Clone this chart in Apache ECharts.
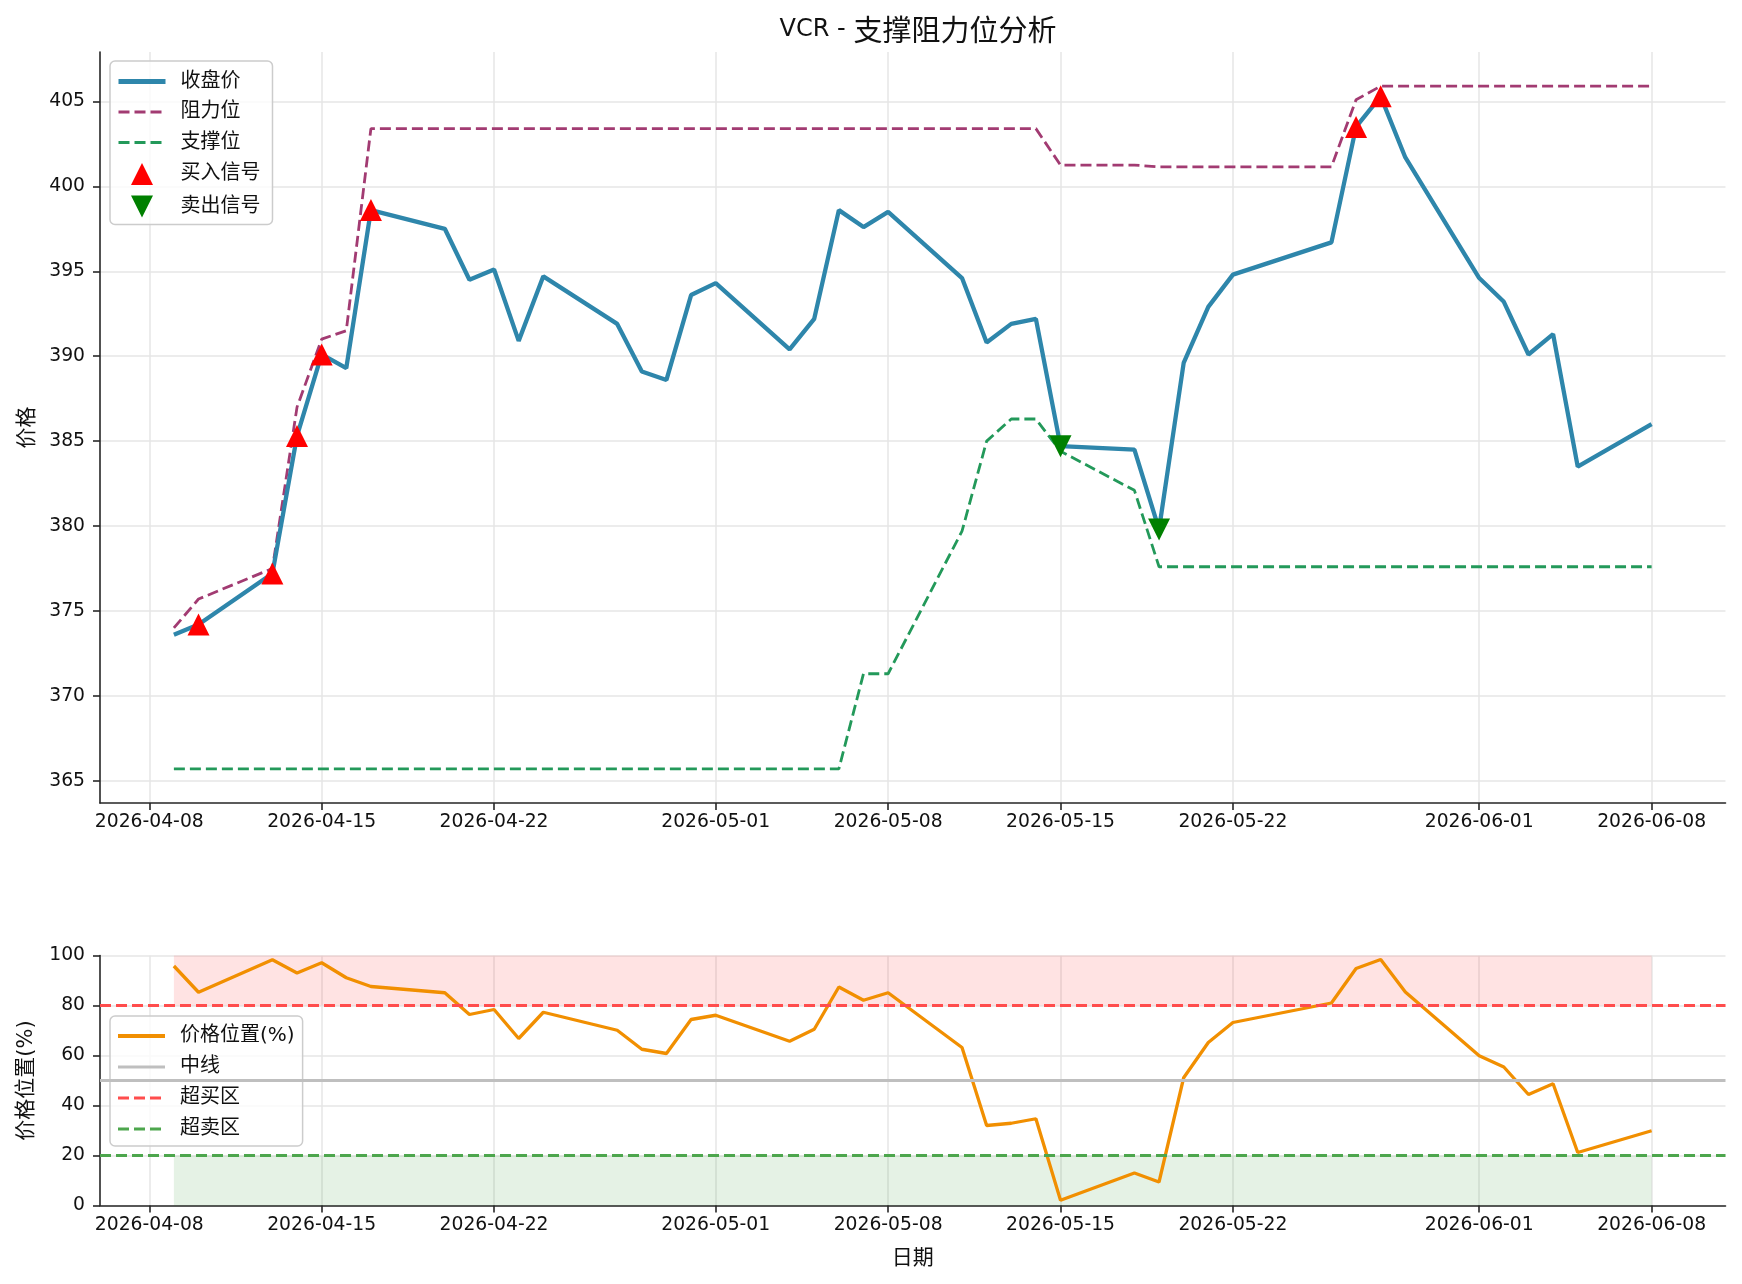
<!DOCTYPE html>
<html>
<head>
<meta charset="utf-8">
<script src="https://cdn.jsdelivr.net/npm/echarts@6/dist/echarts.min.js"></script>
<style>
html, body { margin: 0; padding: 0; background: #fff; }
#chart { width: 1742px; height: 1284px; }
</style>
</head>
<body>
<div id="chart"></div>
<script>
// 交易日
var dates = ['2026-04-09','2026-04-10','2026-04-13','2026-04-14','2026-04-15','2026-04-16','2026-04-17',
  '2026-04-20','2026-04-21','2026-04-22','2026-04-23','2026-04-24','2026-04-27','2026-04-28','2026-04-29',
  '2026-04-30','2026-05-01','2026-05-04','2026-05-05','2026-05-06','2026-05-07','2026-05-08','2026-05-11',
  '2026-05-12','2026-05-13','2026-05-14','2026-05-15','2026-05-18','2026-05-19','2026-05-20','2026-05-21',
  '2026-05-22','2026-05-26','2026-05-27','2026-05-28','2026-05-29','2026-06-01','2026-06-02','2026-06-03',
  '2026-06-04','2026-06-05','2026-06-08'];

var closePrice = [373.6, 374.2, 377.2, 385.3, 390.1, 389.3, 398.6, 397.5, 394.5, 395.1, 390.9, 394.7,
  391.9, 389.1, 388.6, 393.6, 394.3, 390.4, 392.2, 398.6, 397.6, 398.5, 394.6, 390.8, 391.9, 392.2,
  384.7, 384.5, 379.8, 389.6, 392.9, 394.8, 396.7, 403.5, 405.3, 401.7, 394.6, 393.2, 390.1, 391.3,
  383.5, 386.0];

var resistance = [374.0, 375.7, 377.5, 387.0, 391.0, 391.5, 403.4, 403.4, 403.4, 403.4, 403.4, 403.4,
  403.4, 403.4, 403.4, 403.4, 403.4, 403.4, 403.4, 403.4, 403.4, 403.4, 403.4, 403.4, 403.4, 403.4,
  401.25, 401.25, 401.15, 401.15, 401.15, 401.15, 401.15, 405.1, 405.9, 405.9, 405.9, 405.9, 405.9,
  405.9, 405.9, 405.9];

var support = [365.7, 365.7, 365.7, 365.7, 365.7, 365.7, 365.7, 365.7, 365.7, 365.7, 365.7, 365.7,
  365.7, 365.7, 365.7, 365.7, 365.7, 365.7, 365.7, 365.7, 371.3, 371.3, 379.7, 385.0, 386.3, 386.3,
  384.4, 382.1, 377.6, 377.6, 377.6, 377.6, 377.6, 377.6, 377.6, 377.6, 377.6, 377.6, 377.6, 377.6,
  377.6, 377.6];

var pricePos = [95.8, 85.3, 98.3, 93.0, 97.1, 91.1, 87.6, 85.1, 76.4, 78.4, 66.8, 77.3, 70.1, 62.5,
  60.8, 74.4, 76.1, 65.7, 70.5, 87.4, 82.1, 85.1, 63.2, 32.0, 32.9, 34.7, 2.1, 13.0, 9.4, 51.1, 65.2,
  73.2, 81.0, 94.8, 98.4, 85.4, 59.9, 55.4, 44.4, 48.7, 21.2, 29.9];

var buyDates = ['2026-04-10','2026-04-13','2026-04-14','2026-04-15','2026-04-17','2026-05-27','2026-05-28'];
var buyPrices = [374.2, 377.2, 385.3, 390.1, 398.6, 403.5, 405.3];
var sellDates = ['2026-05-15','2026-05-19'];
var sellPrices = [384.7, 379.8];

var xTickLabels = ['2026-04-08','2026-04-15','2026-04-22','2026-05-01','2026-05-08','2026-05-15',
  '2026-05-22','2026-06-01','2026-06-08'];
var priceTicks = [365, 370, 375, 380, 385, 390, 395, 400, 405];
var overBought = 80, overSold = 20, midLine = 50;

function toTs(s) { return new Date(s + 'T00:00:00').getTime(); }
function pairs(xs, ys) { return xs.map(function (d, i) { return [toTs(d), ys[i]]; }); }

// 5% 边距, 与 matplotlib 默认一致
var x0 = toTs(dates[0]), x1 = toTs(dates[dates.length - 1]);
var xPad = (x1 - x0) * 0.05;
var allPrices = closePrice.concat(resistance, support);
var pMin = Math.min.apply(null, allPrices), pMax = Math.max.apply(null, allPrices);
var pPad = (pMax - pMin) * 0.05;

var FONT = 'DejaVu Sans, "Noto Sans CJK SC", sans-serif';
var AX = '#262626';
var GRID = '#e6e6e6';
var xTickVals = xTickLabels.map(toTs);
var TRI_UP = 'path://M10,0 L20,20 L0,20 Z';
var TRI_DOWN = 'path://M0,0 L20,0 L10,20 Z';

function fmtDate(v) {
  var d = new Date(v);
  var p = function (n) { return (n < 10 ? '0' : '') + n; };
  return d.getFullYear() + '-' + p(d.getMonth() + 1) + '-' + p(d.getDate());
}

function makeX(gridIndex) {
  return {
    type: 'value', gridIndex: gridIndex, min: x0 - xPad, max: x1 + xPad,
    axisLine: { show: true, onZero: false, lineStyle: { color: AX, width: 1.6 } },
    axisTick: { show: true, length: 7, lineStyle: { color: AX, width: 1.6 }, customValues: xTickVals },
    axisLabel: {
      customValues: xTickVals, margin: 10, color: '#111', fontFamily: FONT, fontSize: 18.75,
      formatter: fmtDate
    },
    splitLine: { show: true, lineStyle: { color: GRID, width: 1.5 } },
    name: gridIndex === 1 ? '日期' : '', nameLocation: 'middle', nameGap: 43,
    nameTextStyle: { color: '#111', fontFamily: FONT, fontSize: 21 }
  };
}

// 线条图例只显示线, 不显示圆点
function lineItem(name, w) { return { name: name, itemStyle: { opacity: 0 }, lineStyle: { width: w } }; }

var option = {
  backgroundColor: '#fff',
  animation: false,
  title: {
    text: '{a|VCR - }{b|支撑阻力位分析}', left: 913, textAlign: 'center', top: 10,
    textStyle: {
      fontWeight: 'normal',
      rich: {
        a: { fontFamily: 'DejaVu Sans', fontSize: 24, fontWeight: 'normal', color: '#111' },
        b: { fontFamily: '"Noto Sans CJK SC"', fontSize: 29, fontWeight: 'normal', color: '#111' }
      }
    }
  },
  legend: [{
    orient: 'vertical', left: 110, top: 61,
    data: [lineItem('收盘价', 5), lineItem('阻力位', 3), lineItem('支撑位', 3),
      { name: '买入信号', icon: TRI_UP }, { name: '卖出信号', icon: TRI_DOWN }],
    itemWidth: 47, itemHeight: 22, itemGap: 10.5,
    padding: [10.5, 12, 7, 6],
    backgroundColor: 'rgba(255,255,255,0.8)', borderColor: '#cccccc', borderWidth: 1.5, borderRadius: 5,
    textStyle: { fontFamily: FONT, fontSize: 20, color: '#111', padding: [0, 0, 0, 10] }
  }, {
    orient: 'vertical', left: 110, top: 1016,
    data: [lineItem('价格位置(%)', 4), lineItem('中线', 3.2), lineItem('超买区', 3), lineItem('超卖区', 3)],
    itemWidth: 47, itemHeight: 19, itemGap: 11,
    padding: [10, 8, 7, 6],
    backgroundColor: 'rgba(255,255,255,0.8)', borderColor: '#cccccc', borderWidth: 1.5, borderRadius: 5,
    textStyle: { fontFamily: FONT, fontSize: 20, color: '#111', padding: [0, 0, 0, 10] }
  }],
  grid: [
    { left: 100, right: 16.5, top: 52, height: 751 },
    { left: 100, right: 16.5, top: 955.5, height: 250 }
  ],
  xAxis: [makeX(0), makeX(1)],
  yAxis: [{
    type: 'value', gridIndex: 0, min: pMin - pPad, max: pMax + pPad,
    axisLine: { show: true, lineStyle: { color: AX, width: 1.6 } },
    axisTick: { show: true, length: 7, lineStyle: { color: AX, width: 1.6 }, customValues: priceTicks },
    axisLabel: { customValues: priceTicks, margin: 15, color: '#111', fontFamily: FONT, fontSize: 18.75 },
    splitLine: { show: true, lineStyle: { color: GRID, width: 1.5 } },
    name: '价格', nameLocation: 'middle', nameGap: 62,
    nameTextStyle: { color: '#111', fontFamily: FONT, fontSize: 21 }
  }, {
    type: 'value', gridIndex: 1, min: 0, max: 100, interval: 20,
    axisLine: { show: true, lineStyle: { color: AX, width: 1.6 } },
    axisTick: { show: true, length: 7, lineStyle: { color: AX, width: 1.6 } },
    axisLabel: { margin: 15, color: '#111', fontFamily: FONT, fontSize: 18.75 },
    splitLine: { show: true, lineStyle: { color: GRID, width: 1.5 } },
    name: '价格位置(%)', nameLocation: 'middle', nameGap: 63,
    nameTextStyle: { color: '#111', fontFamily: FONT, fontSize: 21 }
  }],
  series: [
    {
      name: '收盘价', type: 'line', xAxisIndex: 0, yAxisIndex: 0, symbol: 'none', z: 3,
      data: pairs(dates, closePrice),
      itemStyle: { color: '#2E86AB' }, lineStyle: { color: '#2E86AB', width: 4.3 }
    },
    {
      name: '阻力位', type: 'line', xAxisIndex: 0, yAxisIndex: 0, symbol: 'none', z: 2,
      data: pairs(dates, resistance),
      itemStyle: { color: '#A23B72' }, lineStyle: { color: '#A23B72', width: 2.8, type: [11, 5] }
    },
    {
      name: '支撑位', type: 'line', xAxisIndex: 0, yAxisIndex: 0, symbol: 'none', z: 2,
      data: pairs(dates, support),
      itemStyle: { color: '#23995A' }, lineStyle: { color: '#23995A', width: 2.8, type: [11, 5] }
    },
    {
      name: '买入信号', type: 'scatter', xAxisIndex: 0, yAxisIndex: 0, z: 5,
      symbol: TRI_UP, symbolSize: 22,
      data: pairs(buyDates, buyPrices), itemStyle: { color: '#ff0000', opacity: 1 }
    },
    {
      name: '卖出信号', type: 'scatter', xAxisIndex: 0, yAxisIndex: 0, z: 5,
      symbol: TRI_DOWN, symbolSize: 22,
      data: pairs(sellDates, sellPrices), itemStyle: { color: '#008000', opacity: 1 }
    },
    {
      name: 'zones', type: 'line', xAxisIndex: 1, yAxisIndex: 1, data: [], silent: true, z: 1,
      markArea: {
        silent: true,
        data: [
          [{ xAxis: x0, yAxis: overBought, itemStyle: { color: 'rgba(255,0,0,0.11)' } },
           { xAxis: x1, yAxis: 100 }],
          [{ xAxis: x0, yAxis: 0, itemStyle: { color: 'rgba(0,128,0,0.1)' } },
           { xAxis: x1, yAxis: overSold }]
        ]
      }
    },
    {
      name: '中线', type: 'line', xAxisIndex: 1, yAxisIndex: 1, data: [], z: 2,
      itemStyle: { color: '#bfbfbf' }, lineStyle: { color: '#bfbfbf', width: 3 },
      markLine: { silent: true, symbol: 'none', label: { show: false },
        lineStyle: { color: '#bfbfbf', width: 3, type: 'solid' }, data: [{ yAxis: midLine }] }
    },
    {
      name: '超买区', type: 'line', xAxisIndex: 1, yAxisIndex: 1, data: [], z: 2,
      itemStyle: { color: '#ff4d4d' }, lineStyle: { color: '#ff4d4d', width: 2.8, type: [11, 5] },
      markLine: { silent: true, symbol: 'none', label: { show: false },
        lineStyle: { color: '#ff4d4d', width: 2.8, type: [11, 5] }, data: [{ yAxis: overBought }] }
    },
    {
      name: '超卖区', type: 'line', xAxisIndex: 1, yAxisIndex: 1, data: [], z: 2,
      itemStyle: { color: '#4da64d' }, lineStyle: { color: '#4da64d', width: 2.8, type: [11, 5] },
      markLine: { silent: true, symbol: 'none', label: { show: false },
        lineStyle: { color: '#4da64d', width: 2.8, type: [11, 5] }, data: [{ yAxis: overSold }] }
    },
    {
      name: '价格位置(%)', type: 'line', xAxisIndex: 1, yAxisIndex: 1, symbol: 'none', z: 4,
      data: pairs(dates, pricePos),
      itemStyle: { color: '#F18F01' }, lineStyle: { color: '#F18F01', width: 3.3 }
    }
  ]
};

var chart = echarts.init(document.getElementById('chart'));
chart.setOption(option);
</script>
</body>
</html>
